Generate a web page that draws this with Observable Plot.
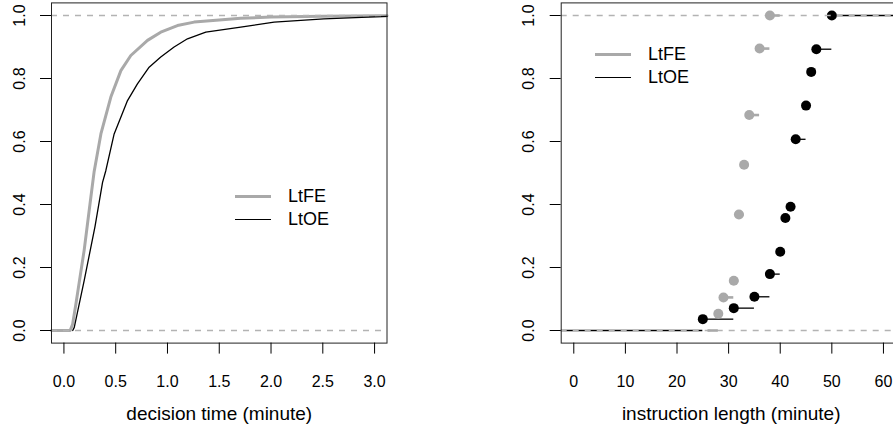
<!DOCTYPE html>
<html>
<head>
<meta charset="utf-8">
<script src="https://cdn.jsdelivr.net/npm/d3@7"></script>
<script src="https://cdn.jsdelivr.net/npm/@observablehq/plot@0.6"></script>
<style>
  html, body { margin: 0; padding: 0; background: #fff; }
  body { position: relative; width: 893px; height: 438px; overflow: hidden;
         font-family: "Liberation Sans", Arial, sans-serif; }
  .panel { position: absolute; top: 0; width: 440px; height: 438px; }
  .panel svg { max-width: none !important; }
  .leg { position: absolute; height: 20px; display: flex; align-items: center;
         font-size: 18px; color: #000; white-space: nowrap; }
  .sw { width: 36px; margin-right: 17px; }
</style>
</head>
<body>
<div id="left" class="panel" style="left:0px"></div>
<div id="right" class="panel" style="left:500px"></div>
<div class="leg" style="left:235px; top:186px"><div class="sw" style="border-top:3px solid #a9a9a9"></div>LtFE</div>
<div class="leg" style="left:235px; top:209px"><div class="sw" style="border-top:1.3px solid #000"></div>LtOE</div>
<div class="leg" style="left:595px; top:44px"><div class="sw" style="border-top:3px solid #a9a9a9"></div>LtFE</div>
<div class="leg" style="left:595px; top:67px"><div class="sw" style="border-top:1.3px solid #000"></div>LtOE</div>
<script>
// ---------- Data: left panel (ECDF of decision time, minutes) ----------
const seriesNames = ["LtFE", "LtOE"];
const decisionX_FE = [-0.12, 0.06, 0.084, 0.116, 0.196, 0.26, 0.292, 0.357, 0.453, 0.55, 0.646, 0.807, 0.935, 1.096, 1.257, 1.5, 1.707, 2.0, 2.5, 3.12];
const decisionF_FE = [0, 0, 0.02, 0.085, 0.256, 0.423, 0.505, 0.624, 0.741, 0.825, 0.873, 0.921, 0.947, 0.968, 0.979, 0.986, 0.991, 0.995, 0.998, 0.999];
const decisionX_OE = [0.085, 0.1, 0.196, 0.3, 0.373, 0.405, 0.485, 0.614, 0.71, 0.823, 0.935, 1.064, 1.193, 1.37, 1.707, 2.03, 2.51, 3.12];
const decisionF_OE = [0, 0.01, 0.159, 0.33, 0.47, 0.508, 0.624, 0.73, 0.783, 0.836, 0.868, 0.9, 0.926, 0.947, 0.963, 0.979, 0.989, 0.997];
const leftXTicks = [0, 0.5, 1, 1.5, 2, 2.5, 3];
const leftXDomain = [-0.12, 3.12];

// ---------- Data: right panel (ECDF of instruction length, minutes) ----------
const instrKnots_FE = [28, 29, 31, 32, 33, 34, 36, 38];
const instrF_FE = [0.053, 0.105, 0.158, 0.368, 0.526, 0.684, 0.895, 1.0];
const instrExtent_FE = [26, 40];
const instrKnots_OE = [25, 31, 35, 38, 40, 41, 42, 43, 45, 46, 47, 50];
const instrF_OE = [0.036, 0.071, 0.107, 0.179, 0.25, 0.357, 0.393, 0.607, 0.714, 0.821, 0.893, 1.0];
const rightXTicks = [0, 10, 20, 30, 40, 50, 60];
const rightXDomain = [-2.44, 63.44];
const instrExtent_OE = rightXDomain;

const yTicks = [0, 0.2, 0.4, 0.6, 0.8, 1.0];
const yDomain = [-0.04, 1.04];
const refLines = [0, 1];
const xTitles = ["decision time (minute)", "instruction length (minute)"];

const GRAY = "#a9a9a9", DASH = "#b3b3b3", BLACK = "#000";
const fmt1 = d3.format(".1f");
const style = {fontFamily: "'Liberation Sans', Arial, sans-serif", fontSize: "16px", color: "#000", background: "transparent", overflow: "visible", maxWidth: "none"};

function lineRows(xs, fs) { return xs.map((x, i) => ({x, F: fs[i]})); }
function stepRows(knots, fs, ext) {
  const rows = [];
  for (let i = 0; i <= knots.length; i++) {
    rows.push({
      x1: i === 0 ? ext[0] : knots[i - 1],
      x2: i === knots.length ? ext[1] : knots[i],
      F: i === 0 ? 0 : fs[i - 1]
    });
  }
  return rows;
}
function pointRows(knots, fs) { return knots.map((x, i) => ({x, F: fs[i]})); }

// ---------- Left panel ----------
const left = Plot.plot({
  width: 440, height: 438,
  marginLeft: 51, marginRight: 53.5, marginTop: 2.4, marginBottom: 95.4,
  style,
  x: {domain: leftXDomain},
  y: {domain: yDomain},
  marks: [
    Plot.line(lineRows(decisionX_FE, decisionF_FE), {x: "x", y: "F", stroke: GRAY, strokeWidth: 3, curve: "linear"}),
    Plot.line(lineRows(decisionX_OE, decisionF_OE), {x: "x", y: "F", stroke: BLACK, strokeWidth: 1.3, curve: "linear"}),
    Plot.ruleY(refLines, {stroke: DASH, strokeWidth: 1.3, strokeDasharray: "6,6"}),
    Plot.frame({stroke: "#222", strokeWidth: 1}),
    Plot.axisX({ticks: leftXTicks, tickSize: 11, tickPadding: 22, tickFormat: fmt1, label: null}),
    Plot.axisY({ticks: yTicks, tickSize: 11, tickPadding: 16, tickRotate: -90, tickFormat: fmt1, label: null}),
    Plot.text([xTitles[0]], {text: d => d, frameAnchor: "bottom", lineAnchor: "bottom", dy: 77, fontSize: 19})
  ]
});
document.getElementById("left").appendChild(left);

// ---------- Right panel ----------
const right = Plot.plot({
  width: 420, height: 438,
  marginLeft: 60.7, marginRight: 19.3, marginTop: 2.4, marginBottom: 95.4,
  style,
  x: {domain: rightXDomain},
  y: {domain: yDomain},
  marks: [
    Plot.ruleY(stepRows(instrKnots_OE, instrF_OE, instrExtent_OE), {x1: "x1", x2: "x2", y: "F", stroke: BLACK, strokeWidth: 1.3}),
    Plot.dot(pointRows(instrKnots_OE, instrF_OE), {x: "x", y: "F", r: 5, fill: BLACK, stroke: "none"}),
    Plot.ruleY(refLines, {stroke: DASH, strokeWidth: 1.3, strokeDasharray: "6,6"}),
    Plot.ruleY(stepRows(instrKnots_FE, instrF_FE, instrExtent_FE), {x1: "x1", x2: "x2", y: "F", stroke: GRAY, strokeWidth: 2.6}),
    Plot.dot(pointRows(instrKnots_FE, instrF_FE), {x: "x", y: "F", r: 5, fill: GRAY, stroke: "none"}),
    Plot.frame({stroke: "#222", strokeWidth: 1}),
    Plot.axisX({ticks: rightXTicks, tickSize: 11, tickPadding: 22, tickFormat: d3.format("d"), label: null}),
    Plot.axisY({ticks: yTicks, tickSize: 11, tickPadding: 16, tickRotate: -90, tickFormat: fmt1, label: null}),
    Plot.text([xTitles[1]], {text: d => d, frameAnchor: "bottom", lineAnchor: "bottom", dy: 77, fontSize: 19})
  ]
});
document.getElementById("right").appendChild(right);
</script>
</body>
</html>
